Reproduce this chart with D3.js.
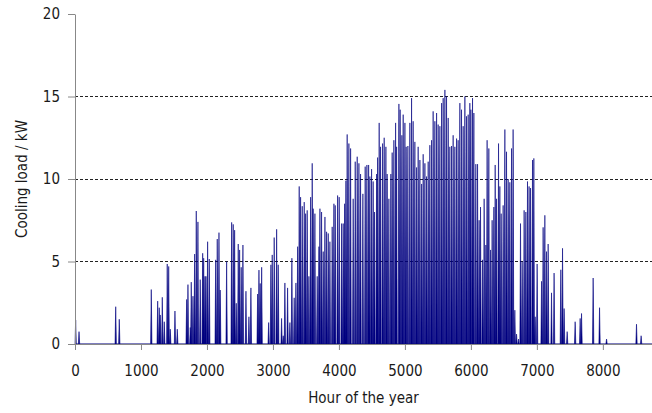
<!DOCTYPE html>
<html>
<head>
<meta charset="utf-8">
<script src="https://cdn.jsdelivr.net/npm/d3@7"></script>
<style>
  body { margin: 0; background: #fff; }
  svg text { font-family: "DejaVu Sans", sans-serif; font-stretch: condensed; fill: #1a1a1a; }
</style>
</head>
<body>
<div id="chart"></div>
<script>
// peaks of the hourly cooling load (hour, kW)
const peakHours = [10, 61, 617, 671, 1156, 1253, 1277, 1292, 1323, 1353, 1398, 1420, 1444, 1515, 1550,
  1692, 1712, 1747, 1762, 1788, 1813, 1838, 1863, 1898, 1935, 1950, 1970, 1985, 2010, 2035,
  2132, 2156, 2182, 2201, 2298, 2374, 2398, 2419, 2444, 2474, 2495, 2519, 2545, 2591, 2636, 2666,
  2768, 2788, 2807, 2829, 2935, 2969, 2989, 3019, 3056, 3080, 3131, 3156, 3181, 3222, 3257, 3287,
  3322, 3348, 3374, 3398, 3419, 3444, 3474, 3495, 3519, 3545, 3571, 3595, 3610, 3636, 3671, 3697,
  3712, 3737, 3762, 3788, 3813, 3838, 3863, 3898, 3924, 3944, 3980, 4004, 4041, 4065, 4086, 4106,
  4125, 4151, 4177, 4216, 4247, 4277, 4303, 4328, 4363, 4398, 4424, 4450, 4469, 4495, 4519, 4540,
  4571, 4586, 4610, 4631, 4662, 4686, 4712, 4731, 4757, 4787, 4807, 4833, 4859, 4874, 4909, 4928,
  4954, 4974, 5000, 5019, 5045, 5075, 5101, 5125, 5151, 5177, 5201, 5227, 5253, 5277, 5303, 5328,
  5353, 5378, 5404, 5428, 5454, 5480, 5504, 5530, 5556, 5580, 5606, 5631, 5656, 5681, 5707, 5731,
  5757, 5783, 5807, 5833, 5858, 5883, 5909, 5934, 5959, 5984, 6000, 6025, 6045, 6075, 6101, 6125,
  6146, 6177, 6201, 6227, 6246, 6272, 6298, 6322, 6348, 6368, 6389, 6419, 6439, 6459, 6489, 6515,
  6540, 6565, 6590, 6616, 6640, 6666, 6692, 6722, 6752, 6777, 6807, 6833, 6858, 6882, 6904, 6934,
  6954, 6974, 7004, 7071, 7095, 7121, 7146, 7171, 7222, 7261, 7363, 7389, 7413, 7459, 7580, 7656,
  7677, 7853, 7950, 8056, 8510, 8580];
const peakLoads = [1.45, 0.75, 2.26, 1.5, 3.3, 2.6, 2.2, 1.76, 2.83, 1.35, 4.85, 4.7, 0.9, 2.0, 0.9,
  2.7, 3.6, 1.0, 3.75, 2.9, 5.45, 8.06, 7.4, 3.9, 5.5, 5.2, 4.1, 4.1, 6.2, 5.15,
  5.1, 6.36, 6.75, 3.27, 5.0, 7.37, 7.25, 6.9, 2.47, 6.06, 5.7, 4.65, 6.0, 3.2, 1.65, 3.4,
  3.03, 4.48, 3.67, 4.65, 1.3, 4.8, 5.4, 6.45, 6.95, 4.8, 1.55, 0.5, 3.7, 3.4, 1.3, 5.2,
  2.8, 3.7, 5.9, 9.55, 8.9, 8.35, 8.6, 7.9, 8.1, 4.1, 8.9, 10.95, 8.2, 7.9, 4.1, 5.9,
  8.2, 8.0, 5.6, 7.7, 6.8, 6.7, 6.2, 7.1, 8.5, 8.4, 9.0, 8.9, 7.3, 7.3, 8.5, 9.9,
  12.7, 12.15, 11.85, 8.8, 11.05, 11.35, 10.95, 10.3, 9.1, 10.75, 10.85, 10.85, 10.15, 10.6, 9.85, 8.0,
  10.3, 11.3, 13.4, 11.95, 12.15, 12.5, 11.95, 10.3, 8.8, 10.3, 11.6, 12.35, 13.4, 11.95, 14.55, 14.2,
  12.65, 13.9, 13.4, 11.95, 12.0, 13.4, 14.9, 13.5, 12.25, 10.7, 11.95, 11.15, 9.7, 11.5, 10.95, 10.15,
  11.05, 12.05, 12.35, 14.1, 13.5, 14.0, 13.3, 13.2, 14.6, 14.9, 15.4, 15.0, 13.7, 11.95, 12.0, 12.65,
  11.95, 12.45, 12.35, 14.6, 14.2, 13.2, 15.0, 13.8, 13.9, 14.6, 14.2, 14.9, 14.0, 10.9, 10.9, 7.5,
  8.3, 5.1, 8.8, 6.0, 12.35, 11.85, 5.7, 7.5, 8.3, 10.85, 8.8, 12.15, 9.55, 7.9, 8.4, 13.0,
  11.65, 10.0, 9.8, 11.85, 13.0, 2.05, 0.6, 0.3, 7.3, 5.0, 8.1, 8.0, 9.85, 9.55, 9.45, 11.15,
  11.25, 1.65, 4.85, 3.8, 7.07, 7.8, 5.6, 6.06, 3.1, 4.3, 4.5, 5.8, 2.15, 0.75, 1.35, 1.55,
  1.85, 4.0, 2.2, 0.3, 1.2, 0.5];
const xTicks = [0, 1000, 2000, 3000, 4000, 5000, 6000, 7000, 8000];
const yTicks = [0, 5, 10, 15, 20];
const gridValues = [5, 10, 15];

const width = 652, height = 413;
const margin = {left: 75, right: 0, top: 14, bottom: 69};

let svg = d3.select("#chart")
  .append("svg")
  .attr("width", width)
  .attr("height", height);

let x = d3.scaleLinear().domain([0, 8760]).range([margin.left, 653]);
let y = d3.scaleLinear().domain([0, 20]).range([height - margin.bottom, margin.top]);

// dashed grid
svg.append("g").selectAll("line").data(gridValues).enter()
  .append("line")
  .attr("x1", margin.left).attr("x2", width)
  .attr("y1", d => y(d)).attr("y2", d => y(d))
  .attr("stroke", "#222").attr("stroke-width", 1)
  .attr("stroke-dasharray", "3,2")
  .attr("shape-rendering", "crispEdges");

// each daily peak drawn as a narrow spike back down to zero
let spikes = peakHours.map((h, i) => ({h: h, v: peakLoads[i]}));
let halfW = 10;
let pts = [{h: 0, v: 0}];
spikes.forEach(s => {
  pts.push({h: Math.max(0, s.h - halfW), v: 0});
  pts.push({h: s.h, v: s.v});
  pts.push({h: s.h + halfW, v: 0});
});
pts.push({h: 8760, v: 0});

let area = d3.area()
  .x(d => x(d.h))
  .y0(y(0))
  .y1(d => y(d.v));

svg.append("path")
  .datum(pts)
  .attr("d", area)
  .attr("fill", "#000080")
  .attr("stroke", "#000080")
  .attr("stroke-width", 0.6)
  .attr("stroke-linejoin", "bevel");

// axes
let xAxis = svg.append("g")
  .attr("transform", `translate(0,${y(0)})`)
  .call(d3.axisBottom(x).tickValues(xTicks).tickFormat(d3.format("d")).tickSize(6).tickSizeOuter(0).tickPadding(15));
let yAxis = svg.append("g")
  .attr("transform", `translate(${margin.left},0)`)
  .call(d3.axisLeft(y).tickValues(yTicks).tickSize(7).tickSizeOuter(0).tickPadding(8));

[xAxis, yAxis].forEach(g => {
  g.select(".domain").attr("stroke", "#888");
  g.selectAll(".tick line").attr("stroke", "#888");
  g.selectAll(".tick text").style("font-size", "15px").attr("fill", "#1a1a1a");
});

// axis titles
svg.append("text")
  .attr("transform", `translate(${(75 + 652) / 2},${403})`)
  .style("text-anchor", "middle")
  .style("font-size", "15px")
  .text("Hour of the year");

svg.append("text")
  .attr("transform", `translate(${27},${179}) rotate(-90)`)
  .style("text-anchor", "middle")
  .style("font-size", "15px")
  .text("Cooling load / kW");
</script>
</body>
</html>
